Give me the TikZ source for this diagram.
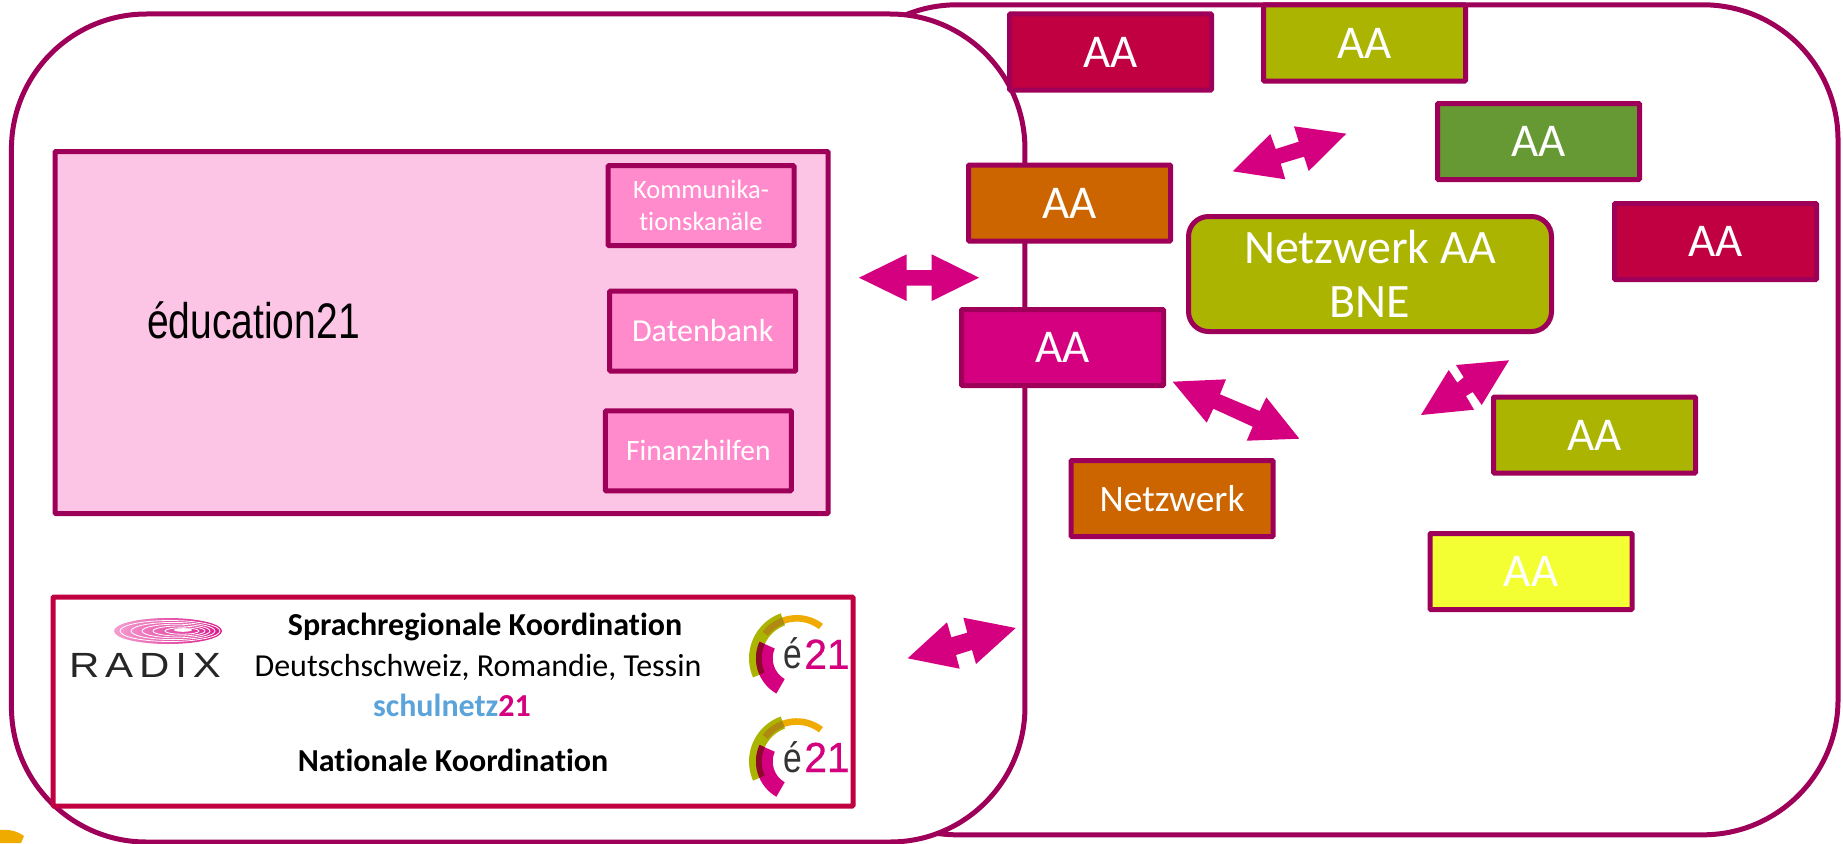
\documentclass[tikz,border=0pt]{standalone}
\usepackage{fontspec}
\usepackage{graphicx}
\setmainfont{Carlito}[Ligatures=NoCommon]
\newfontfamily\arialfont{Liberation Sans}
\definecolor{rim}{HTML}{9E0059}
\definecolor{magenta21}{HTML}{D4007F}
\definecolor{olive21}{HTML}{ABB400}
\definecolor{red21}{HTML}{C00040}
\definecolor{orange21}{HTML}{CC6500}
\definecolor{green21}{HTML}{669933}
\definecolor{yellow21}{HTML}{F4FF33}
\definecolor{pinklight}{HTML}{FDC5E5}
\definecolor{pinkmid}{HTML}{FF8ACC}
\definecolor{gold21}{HTML}{F0AB00}
\definecolor{blue21}{HTML}{5BA3DB}
\definecolor{darkred21}{HTML}{8E0A2A}
\definecolor{brown21}{HTML}{B08A10}
\newcommand{\fsz}[1]{\fontsize{#1}{#1}\selectfont}
\newcommand{\sector}[5]{\fill[#5] (#1:#4 pt) arc[start angle=#1,end angle=#2,radius=#4 pt] -- (#2:#3 pt) arc[start angle=#2,end angle=#1,radius=#3 pt] -- cycle;}
\tikzset{
  panel/.style={draw=rim,line width=5pt,fill=white,rounded corners=135pt,inner sep=0pt},
  aabox/.style={draw=rim,line width=5pt,rounded corners=1pt,minimum width=202pt,minimum height=76pt,inner sep=0pt,text=white,font=\fsz{47}},
  subbox/.style={draw=rim,line width=5pt,rounded corners=1pt,fill=pinkmid,minimum width=186pt,minimum height=80pt,inner sep=0pt,text=white,align=center},
  blockarrow/.style={fill=magenta21,draw=none},
  lbl/.style={inner sep=0pt,text=black},
  e21logo/.pic={
    \begin{scope}[y=1pt,x=1pt]
      \sector{52.7}{142}{36.7}{43.3}{gold21}
      \sector{109.6}{203.7}{35}{47.7}{olive21}
      \sector{109.6}{142}{36.7}{43.3}{brown21}
      \sector{156}{240}{24}{40.7}{magenta21}
      \sector{156}{203.7}{35}{40.7}{darkred21}
      \node[inner sep=0pt,anchor=base,text=black!80,font=\arialfont\fsz{42}] (e) at (-3.5,-10.5) {\scalebox{.8}[1]{é}};
      \node[inner sep=0pt,anchor=base,text=magenta21,font=\arialfont\fsz{42}] (n) at (30.3,-10.5) {\scalebox{.97}[1]{\addfontfeature{FakeBold=0.6}21}};
    \end{scope}
  }
}
\begin{document}
\begin{tikzpicture}[x=1pt,y=-1pt]
\useasboundingbox (0,0) rectangle (1843,843);
% panels
\node[panel,minimum width=1016pt,minimum height=830pt] (rightpanel) at (1330,419.8) {};
\node[panel,minimum width=1013.5pt,minimum height=828pt] (leftpanel) at (518.2,428) {};
% stray logo piece at the lower edge
\fill[gold21] (0,830) .. controls (9,829) and (17,831) .. (24,836) -- (21,843) -- (0,843) -- cycle;
% education21
\node[draw=rim,line width=5pt,fill=pinklight,rounded corners=1pt,minimum width=773pt,minimum height=362pt,inner sep=0pt] (edu) at (441.5,332.5) {};
\node[inner sep=0pt,font=\arialfont\fsz{50}] (edulabel) at (253.5,320) {\scalebox{.78}[1]{éducation21}};
\node[subbox,font=\fsz{26.5}] (komm) at (701,205.7) {Kommunika-\\[5.5pt]tionskanäle};
\node[subbox,font=\fsz{32}] (daten) at (702.7,331) {Datenbank};
\node[subbox,font=\fsz{29.5}] (finanz) at (698.3,450.8) {Finanzhilfen};
% coordination box
\node[draw=red21,line width=5pt,fill=white,rounded corners=1pt,minimum width=800pt,minimum height=209pt,inner sep=0pt] (koord) at (453,701.5) {};
\node[lbl,font=\bfseries\fsz{32}] (sprach) at (485,627) {Sprachregionale Koordination};
\node[lbl,font=\fsz{32}] (region) at (478,667) {Deutschschweiz, Romandie, Tessin};
\node[lbl,font=\bfseries\fsz{32}] (schulnetz) at (452,705) {\textcolor{blue21}{schulnetz}\textcolor{magenta21}{21}};
\node[lbl,font=\bfseries\fsz{32}] (national) at (453,760) {Nationale Koordination};
% RADIX logo
\shade[left color=pinklight!80!magenta21,right color=magenta21!90] (168,631) ellipse [x radius=54,y radius=13];
\foreach \r/\c/\h in {50/170/10.5,42/173/8.6,34/176/6.8,26/179/5,17/182/3.2}
  \draw[white,line width=.8pt] (\c,631) ellipse [x radius=\r,y radius=\h];
\fill[white] (183,630) ellipse [x radius=9,y radius=1.8];
\node[inner sep=0pt,anchor=base,text=black!85,font=\arialfont\fsz{35}] (radix) at (145,677) {\scalebox{1.2}[1]{\addfontfeature{LetterSpace=14}RADIX}};
% é21 logos
\pic (logoa) at (796.7,658.3) {e21logo};
\pic (logob) at (796.7,761.5) {e21logo};
% AA boxes
\node[aabox,fill=red21] (aa1) at (1110.5,52) {AA};
\node[aabox,fill=olive21] (aa2) at (1364.5,43) {AA};
\node[aabox,fill=green21] (aa3) at (1538.5,141.5) {AA};
\node[aabox,fill=red21] (aa4) at (1715.5,241.5) {AA};
\node[aabox,fill=orange21] (aa5) at (1069.5,203) {AA};
\node[aabox,fill=magenta21] (aa6) at (1062.5,347.5) {AA};
\node[aabox,fill=olive21] (aa7) at (1594.5,435) {AA};
\node[aabox,fill=yellow21] (aa8) at (1531,571.5) {AA};
\node[aabox,fill=orange21,font=\fsz{37.5}] (netz) at (1172,498.5) {Netzwerk};
\node[draw=rim,line width=5pt,fill=olive21,rounded corners=20pt,minimum width=363pt,minimum height=115pt,inner sep=0pt,text=white,align=center,font=\fsz{48}] (hub) at (1370,274) {Netzwerk AA\\[6pt]BNE};
% block arrows
\fill[blockarrow] (859,277.7) -- (906.7,254.3) -- (906.7,270) -- (931.7,270) -- (931.7,254.3) -- (979,277.7) -- (931.7,301) -- (931.7,285.7) -- (906.7,285.7) -- (906.7,301) -- cycle;
\fill[blockarrow] (1232.7,171.3) -- (1270.3,134) -- (1275.7,149) -- (1298.7,141.7) -- (1294,126.3) -- (1346.3,133.7) -- (1308.7,171) -- (1304,156.7) -- (1280.7,163.7) -- (1285.3,179.3) -- cycle;
\fill[blockarrow] (1172.7,381.7) -- (1226,379.3) -- (1220,394.3) -- (1259.7,411) -- (1266.3,397.3) -- (1299.3,438.7) -- (1246.7,440.7) -- (1252.7,426.7) -- (1213.3,408.7) -- (1206.7,422.7) -- cycle;
\fill[blockarrow] (1509,360.3) -- (1456,365) -- (1463.7,377.3) -- (1457.3,382.7) -- (1448.7,370) -- (1421,415) -- (1474,409.7) -- (1466,396) -- (1472.7,392) -- (1481.7,405) -- cycle;
\fill[blockarrow] (907.7,658.3) -- (947,622.3) -- (951.3,637.3) -- (967.3,632.7) -- (963.3,617.7) -- (1015.7,628) -- (976,664) -- (972,650) -- (956,655) -- (959.7,668.7) -- cycle;
\end{tikzpicture}
\end{document}
